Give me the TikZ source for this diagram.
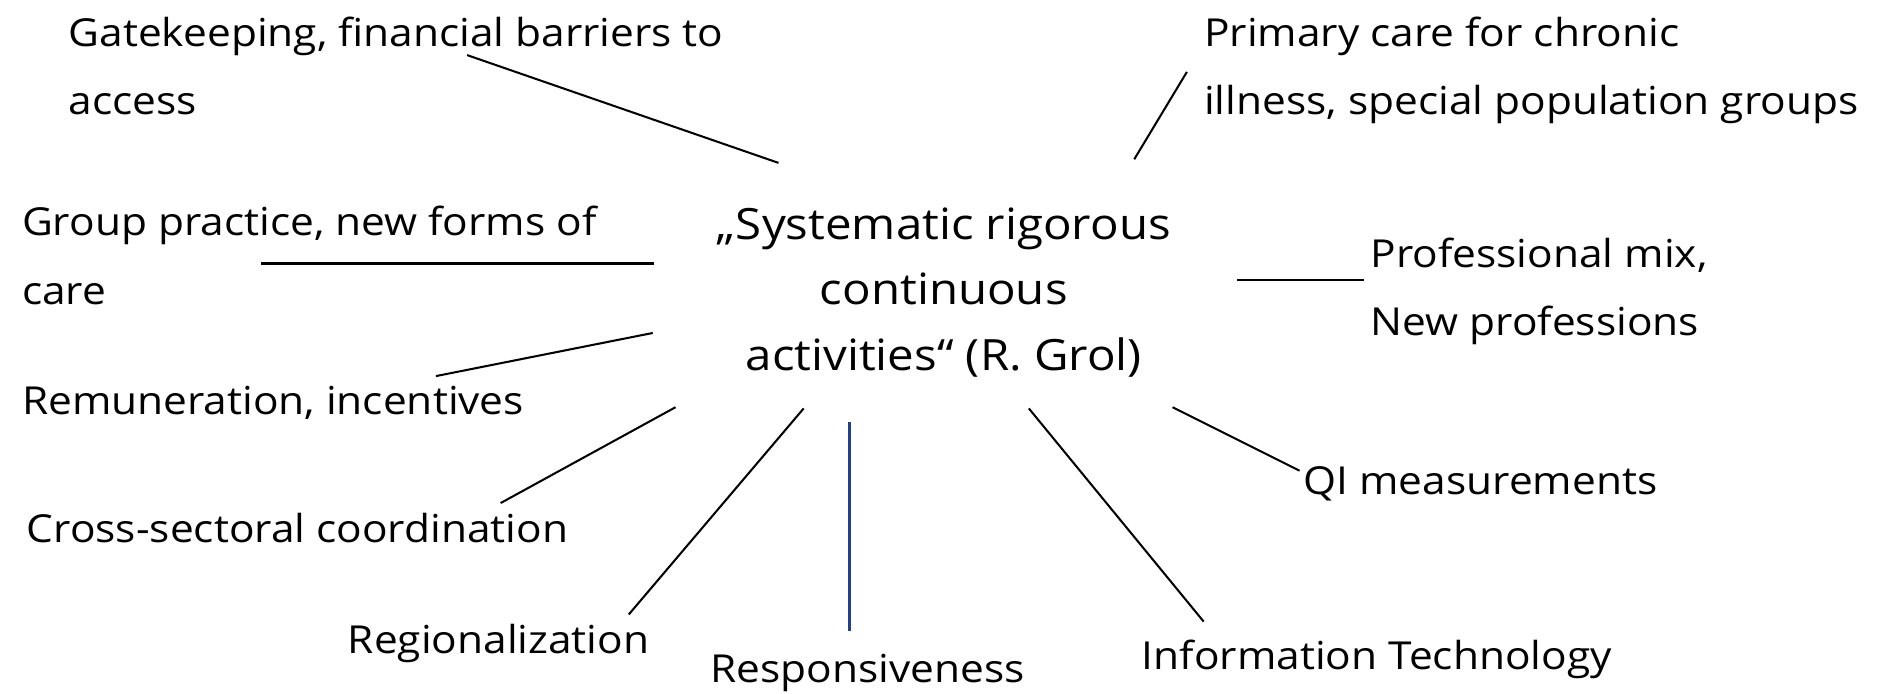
\documentclass[tikz,border=0pt]{standalone}
\usepackage{fontspec}
\setmainfont{Open Sans}[FakeStretch=1.1]
\definecolor{linkblue}{HTML}{1F3F8F}
\begin{document}
\begin{tikzpicture}[x=0.5pt,y=-0.5pt,
  lbl/.style={inner sep=0pt, anchor=base west, align=left, font=\fontsize{16.1}{28.5}\selectfont},
  ctr/.style={inner sep=0pt, anchor=base, align=center, font=\fontsize{18}{27.25}\selectfont},
  link/.style={draw=black, line width=0.85pt},
  bluelink/.style={draw=linkblue, line width=1.2pt}]
\useasboundingbox[fill=white] (0,0) rectangle (1568,579);
% labels (anchor = baseline of the last line)
\node[lbl] (gate) at (57,96) {Gatekeeping, financial barriers to\\access};
\node[lbl] (prim) at (1005,96) {Primary care for chronic\\illness, special population groups};
\node[lbl] (group) at (18,254) {Group practice, new forms of\\care};
\node[ctr] (center) at (788,309) {„Systematic rigorous\\continuous\\activities“ (R. Grol)};
\node[lbl] (prof) at (1144,280) {Professional mix,\\New professions};
\node[lbl] (remu) at (18,346) {Remuneration, incentives};
\node[lbl] (qi) at (1088,413) {QI measurements};
\node[lbl] (cross) at (22,453) {Cross-sectoral coordination};
\node[lbl] (regio) at (290,546) {Regionalization};
\node[lbl] (resp) at (593,570) {Responsiveness};
\node[lbl] (it) at (953,559) {Information Technology};
% connector end points
\coordinate (gateA) at (390,46);   \coordinate (gateB) at (650,136);
\coordinate (primA) at (991,60);   \coordinate (primB) at (947,133);
\coordinate (groupA) at (218,220); \coordinate (groupB) at (546,220);
\coordinate (remuA) at (364,314);  \coordinate (remuB) at (545,278);
\coordinate (profA) at (1033,234); \coordinate (profB) at (1139,234);
\coordinate (crossA) at (418,420); \coordinate (crossB) at (564,340);
\coordinate (regioA) at (525,513); \coordinate (regioB) at (671,341);
\coordinate (respA) at (709,527);  \coordinate (respB) at (709,352);
\coordinate (itA) at (1005,519);   \coordinate (itB) at (859,341);
\coordinate (qiA) at (1085,393);   \coordinate (qiB) at (979,340);
% connectors
\draw[link] (gateA) -- (gateB);
\draw[link] (primA) -- (primB);
\draw[link] (groupA) -- (groupB);
\draw[link] (remuA) -- (remuB);
\draw[link] (profA) -- (profB);
\draw[link] (crossA) -- (crossB);
\draw[link] (regioA) -- (regioB);
\draw[bluelink] (respA) -- (respB);
\draw[link] (itA) -- (itB);
\draw[link] (qiA) -- (qiB);
\end{tikzpicture}
\end{document}
